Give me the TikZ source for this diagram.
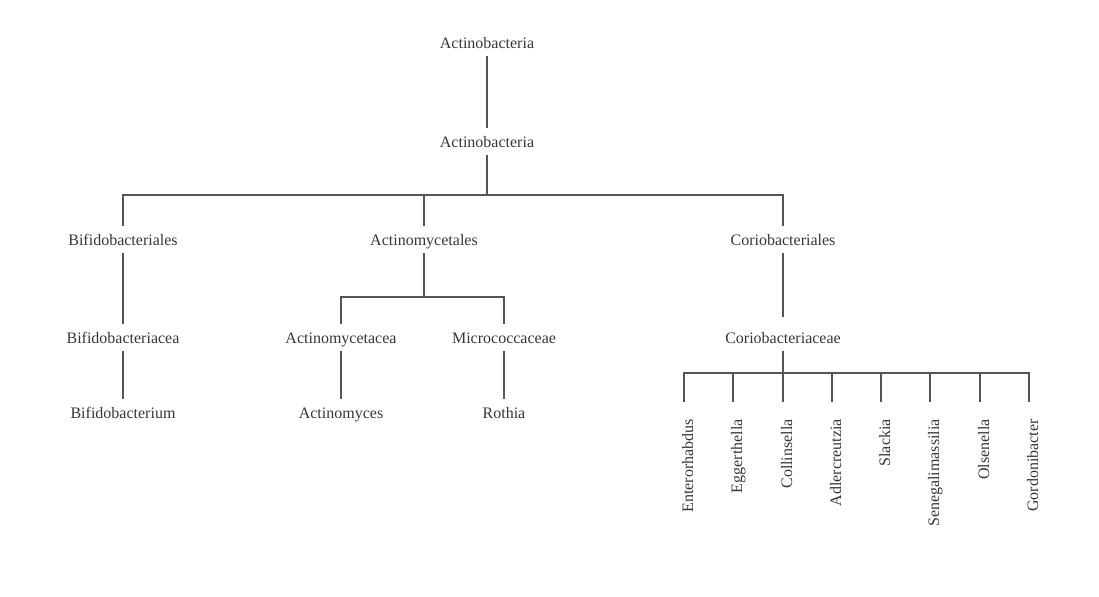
\documentclass[tikz,border=0pt]{standalone}
\usepackage{fontspec}
\setmainfont{Liberation Serif}
\definecolor{linec}{RGB}{85,85,85}
\definecolor{textc}{RGB}{55,55,55}
\begin{document}
\begin{tikzpicture}[x=0.75pt,y=-0.75pt,
  lbl/.style={inner sep=0pt, text height=14.25pt, text depth=6pt, anchor=base,
    font=\fontsize{12pt}{14pt}\selectfont, text=textc},
  leaf/.style={rotate=90, anchor=east, inner xsep=12.75pt, inner ysep=0pt,
    text height=13.5pt, text depth=0pt, font=\fontsize{12pt}{14pt}\selectfont, text=textc},
  conn/.style={draw=linec, line width=0.9pt}]
\useasboundingbox (0,0) rectangle (1099,596);
% nodes
\node[lbl] (a1) at (487,48) {Actinobacteria};
\node[lbl] (a2) at (487,147) {Actinobacteria};
\node[lbl] (bif) at (123,245) {Bifidobacteriales};
\node[lbl] (act) at (424,245) {Actinomycetales};
\node[lbl] (cor) at (783,245) {Coriobacteriales};
\node[lbl] (bifa) at (123,343) {Bifidobacteriacea};
\node[lbl] (acta) at (341,343) {Actinomycetacea};
\node[lbl] (mic) at (504,343) {Micrococcaceae};
\node[lbl] (cora) at (783,343) {Coriobacteriaceae};
\node[lbl] (bifm) at (123,418) {Bifidobacterium};
\node[lbl] (actm) at (341,418) {Actinomyces};
\node[lbl] (rot) at (504,418) {Rothia};
\node[leaf] (l1) at (684,402) {Enterorhabdus};
\node[leaf] (l2) at (733,402) {Eggerthella};
\node[leaf] (l3) at (783,402) {Collinsella};
\node[leaf] (l4) at (832,402) {Adlercreutzia};
\node[leaf] (l5) at (881,402) {Slackia};
\node[leaf] (l6) at (930,402) {Senegalimassilia};
\node[leaf] (l7) at (980,402) {Olsenella};
\node[leaf] (l8) at (1029,402) {Gordonibacter};
% junctions
\coordinate (j1) at (487,195);
\coordinate (j2) at (424,297);
\coordinate (j3) at (783,373);
% connectors
\draw[conn] (a1) -- (a2);
\draw[conn] (a2) -- (j1);
\draw[conn] (j1) -| (bif);
\draw[conn] (j1) -| (act);
\draw[conn] (j1) -| (cor);
\draw[conn] (bif) -- (bifa);
\draw[conn] (bifa) -- (bifm);
\draw[conn] (act) -- (j2);
\draw[conn] (j2) -| (acta);
\draw[conn] (j2) -| (mic);
\draw[conn] (acta) -- (actm);
\draw[conn] (mic) -- (rot);
\draw[conn, shorten >=5.25pt] (cor) -- (cora);
\draw[conn] (cora) -- (j3);
\foreach \l in {l1,l2,l3,l4,l5,l6,l7,l8}
  \draw[conn] (j3) -| (\l);
\end{tikzpicture}
\end{document}
